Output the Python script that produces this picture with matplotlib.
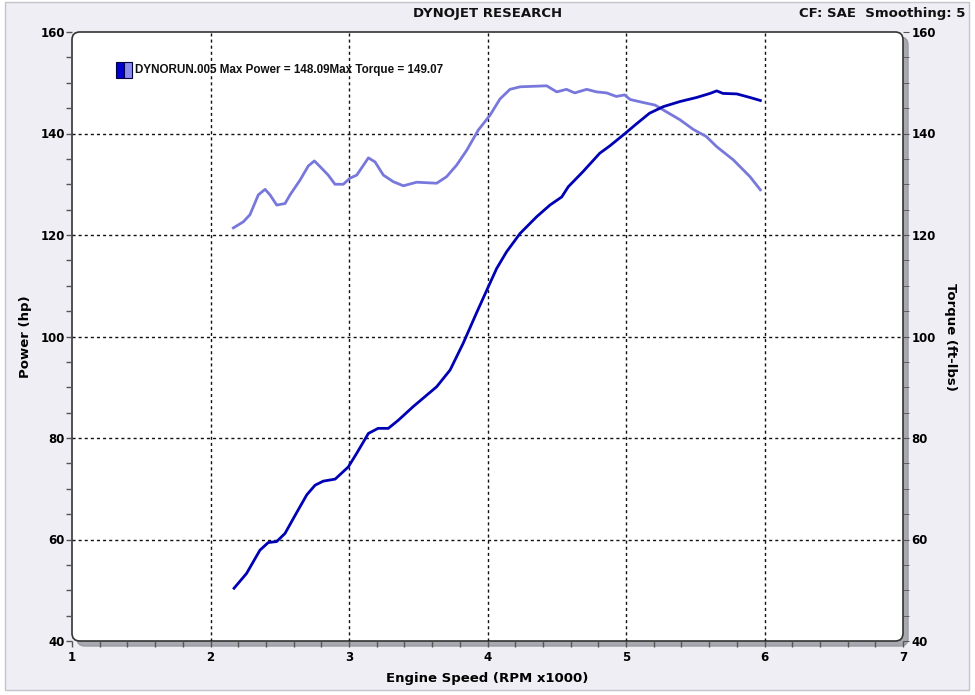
import numpy as np
import matplotlib
matplotlib.use("Agg")
import matplotlib.pyplot as plt
from matplotlib.patches import FancyBboxPatch, Rectangle
from matplotlib.ticker import MultipleLocator
import matplotlib.transforms as mtransforms

# engine speed (RPM x1000) and readings off the dyno sheet
torque_rpm = [2.165, 2.237, 2.285, 2.345, 2.394, 2.43, 2.478, 2.538, 2.574, 2.646,
              2.706, 2.75, 2.79, 2.85, 2.899, 2.959, 3.007, 3.056, 3.14, 3.188,
              3.248, 3.32, 3.392, 3.489, 3.633, 3.705, 3.778, 3.85, 3.934, 4.018,
              4.09, 4.162, 4.235, 4.427, 4.50, 4.57, 4.63, 4.716, 4.788, 4.86,
              4.93, 4.99, 5.03, 5.125, 5.21, 5.29, 5.39, 5.486, 5.58, 5.655,
              5.775, 5.895, 5.97]
torque = [121.4, 122.6, 124.0, 127.9, 129.0, 127.9, 125.9, 126.2, 127.9, 130.8,
          133.6, 134.6, 133.5, 131.8, 130.0, 130.0, 131.2, 131.8, 135.2, 134.4,
          131.8, 130.5, 129.7, 130.4, 130.2, 131.5, 133.8, 136.7, 140.7, 143.6,
          146.8, 148.7, 149.2, 149.4, 148.2, 148.7, 148.0, 148.7, 148.2, 148.0,
          147.3, 147.6, 146.7, 146.1, 145.6, 144.3, 142.7, 140.8, 139.4, 137.4,
          134.8, 131.5, 128.9]

power_rpm = [2.17, 2.26, 2.357, 2.417, 2.478, 2.538, 2.62, 2.695, 2.755, 2.814,
             2.9, 2.995, 3.056, 3.14, 3.21, 3.284, 3.356, 3.464, 3.633, 3.73,
             3.825, 3.92, 4.006, 4.066, 4.138, 4.235, 4.355, 4.451, 4.536, 4.583,
             4.69, 4.81, 4.885, 4.993, 5.08, 5.17, 5.27, 5.39, 5.51, 5.607,
             5.655, 5.70, 5.80, 5.895, 5.97]
power = [50.4, 53.3, 57.9, 59.4, 59.6, 61.2, 65.2, 68.8, 70.7, 71.5,
         71.9, 74.3, 77.0, 80.9, 81.9, 81.9, 83.5, 86.2, 90.1, 93.4,
         98.7, 104.6, 109.8, 113.4, 116.7, 120.3, 123.6, 125.9, 127.5, 129.5,
         132.5, 136.1, 137.6, 140.0, 142.0, 144.0, 145.3, 146.3, 147.1, 147.9,
         148.4, 147.9, 147.8, 147.1, 146.5]

x_ticks = [1, 2, 3, 4, 5, 6, 7]
y_ticks = [40, 60, 80, 100, 120, 140, 160]

W, H = 975, 695
fig = plt.figure(figsize=(W / 100, H / 100), dpi=100, facecolor='white')

def fx(px):
    return px / W

def fy(py):
    return 1 - py / H

# light panel behind everything
fig.patches.append(Rectangle((fx(5), fy(690)), fx(964), 688 / H, transform=fig.transFigure,
                             facecolor='#EEEEF4', edgecolor='#C4C4CC', lw=1, zorder=-5))

L, R, T, B = 72, 903, 32, 641
box_kw = dict(boxstyle='round,pad=0,rounding_size=0.008', mutation_aspect=W / H,
              transform=fig.transFigure)
shadow_tr = mtransforms.offset_copy(fig.transFigure, fig=fig, x=5, y=-5, units='dots')
box_kw_sh = dict(box_kw, transform=shadow_tr)
fig.patches.append(FancyBboxPatch((fx(L), fy(B)), fx(R - L), (B - T) / H,
                                  facecolor='#A8A8B0', edgecolor='#9A9AA2', lw=1,
                                  zorder=-3, **box_kw_sh))
fig.patches.append(FancyBboxPatch((fx(L), fy(B)), fx(R - L), (B - T) / H,
                                  facecolor='white', edgecolor='#333333', lw=1.2,
                                  zorder=-2, **box_kw))

ax = fig.add_axes([fx(L), fy(B), fx(R - L), (B - T) / H])
ax.set_facecolor('none')
for s in ax.spines.values():
    s.set_visible(False)

# inner grid only (edges are covered by the frame)
for v in x_ticks[1:-1]:
    ax.axvline(v, color='#111111', linestyle=(0, (2.2, 2.2)), lw=1.0, zorder=1)
for v in y_ticks[1:-1]:
    ax.axhline(v, color='#111111', linestyle=(0, (2.2, 2.2)), lw=1.0, zorder=1)

ax.plot(torque_rpm, torque, color='#7878DC', lw=2.0, zorder=3)
ax.plot(power_rpm, power, color='#0000B4', lw=2.0, zorder=4)

ax.set_xlim(1, 7)
ax.set_ylim(40, 160)
ax.set_xticks(x_ticks)
ax.set_yticks(y_ticks)
ax.xaxis.set_minor_locator(MultipleLocator(0.2))
ax.yaxis.set_minor_locator(MultipleLocator(5))

ax.tick_params(axis='both', which='both', direction='out', color='#555555', width=1)
ax.tick_params(axis='y', which='major', length=4, pad=1, labelsize=8.5)
ax.tick_params(axis='y', which='minor', length=4)
ax.tick_params(axis='x', which='major', length=4, pad=3, labelsize=8.5)
ax.tick_params(axis='x', which='minor', length=4)
for t in ax.get_xticklabels() + ax.get_yticklabels():
    t.set_fontweight('bold')

ax2 = ax.twinx()
ax2.set_facecolor('none')
for s in ax2.spines.values():
    s.set_visible(False)
ax2.set_ylim(40, 160)
ax2.set_yticks(y_ticks)
ax2.yaxis.set_minor_locator(MultipleLocator(5))
ax2.tick_params(axis='y', which='both', direction='out', color='#555555', length=4, pad=2,
                labelsize=8.5)
for t in ax2.get_yticklabels():
    t.set_fontweight('bold')

ax.set_xlabel('Engine Speed (RPM x1000)', fontsize=9.5, fontweight='bold', labelpad=6)
ax.set_ylabel('Power (hp)', fontsize=9.5, fontweight='bold', labelpad=6)
ax2.set_ylabel('Torque (ft-lbs)', fontsize=9.5, fontweight='bold', rotation=270, labelpad=15)

# legend swatch and text
ax.add_patch(Rectangle((0.0535, 0.924), 0.0095, 0.026, transform=ax.transAxes,
                       facecolor='#0000D0', edgecolor='#000040', lw=0.8, zorder=5))
ax.add_patch(Rectangle((0.0630, 0.924), 0.0095, 0.026, transform=ax.transAxes,
                       facecolor='#8C8CF0', edgecolor='#000040', lw=0.8, zorder=5))
ax.text(0.0755, 0.937, 'DYNORUN.005 Max Power = 148.09Max Torque = 149.07',
        transform=ax.transAxes, fontsize=8.4, fontweight='bold', family='Liberation Sans',
        va='center', ha='left', color='#111111', zorder=5)

fig.text(fx(488), fy(13), 'DYNOJET RESEARCH', fontsize=9.5, fontweight='bold',
         ha='center', va='center', color='#111111')
fig.text(fx(965), fy(13), 'CF: SAE  Smoothing: 5', fontsize=9.5, fontweight='bold',
         ha='right', va='center', color='#111111')

fig.savefig('out.png', dpi=100, facecolor=fig.get_facecolor())
